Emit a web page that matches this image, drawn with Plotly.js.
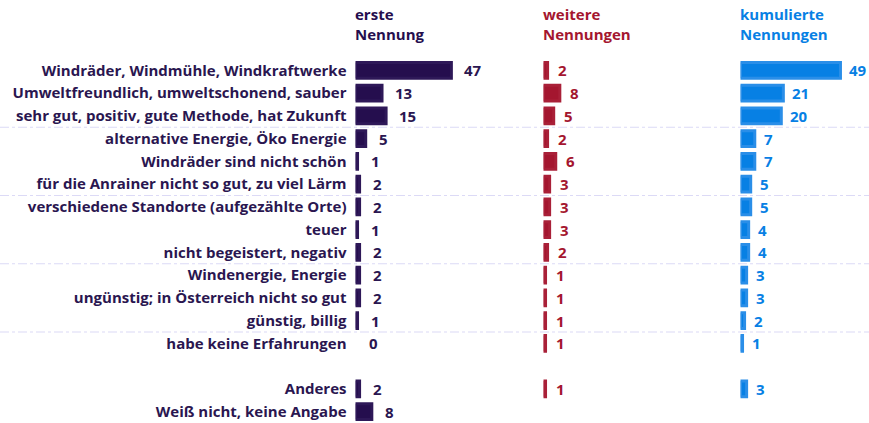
<!DOCTYPE html>
<html><head><meta charset="utf-8">
<script src="https://cdn.plot.ly/plotly-3.0.1.min.js"></script>
<style>html,body{margin:0;padding:0;background:#fff;}#chart{width:869px;height:423px;}</style>
</head><body><div id="chart"></div>
<script>
const categories = [
  "Windräder, Windmühle, Windkraftwerke",
  "Umweltfreundlich, umweltschonend, sauber",
  "sehr gut, positiv, gute Methode, hat Zukunft",
  "alternative Energie, Öko Energie",
  "Windräder sind nicht schön",
  "für die Anrainer nicht so gut, zu viel Lärm",
  "verschiedene Standorte (aufgezählte Orte)",
  "teuer",
  "nicht begeistert, negativ",
  "Windenergie, Energie",
  "ungünstig; in Österreich nicht so gut",
  "günstig, billig",
  "habe keine Erfahrungen",
  "Anderes",
  "Weiß nicht, keine Angabe"
];
const erste = [47, 13, 15, 5, 1, 2, 2, 1, 2, 2, 2, 1, 0, 2, 8];
const weitere = [2, 8, 5, 2, 6, 3, 3, 3, 2, 1, 1, 1, 1, 1];
const kumuliert = [49, 21, 20, 7, 7, 5, 5, 4, 4, 3, 3, 2, 1, 3];
const headers = ["erste<br>Nennung", "weitere<br>Nennungen", "kumulierte<br>Nennungen"];

const W = 869;
const FONT = "'Open Sans', 'DejaVu Sans', sans-serif";
const HFONT = "'Open Sans', 'DejaVu Sans', sans-serif";
const cText = "#2a1650";
const colors = ["#250e4e", "#a4162f", "#0780e4"];
const lineCols = ["#2e1858", "#a92038", "#2a8ee8"];

const catOrder = categories.slice(0, 13).concat([" "], categories.slice(13));

const s = 2.04; // px per unit
const origins = [355.5, 543.5, 740.5];
const ends = [535.5, 723.5, 869];
const series = [erste, weitere, kumuliert];
const axNames = ["x", "x2", "x3"];
const shifts = [11, 8, 7];

const data = series.map((vals, i) => ({
  type: "bar",
  orientation: "h",
  x: vals,
  y: categories.slice(0, vals.length),
  xaxis: axNames[i],
  yaxis: "y",
  width: 0.7,
  marker: {color: colors[i], line: {color: lineCols[i], width: vals.map(v => v > 0 ? 3 : 0)}},
  hoverinfo: "none"
}));

const annotations = [];
series.forEach((vals, i) => {
  vals.forEach((v, k) => {
    annotations.push({
      x: v, y: categories[k], xref: axNames[i], yref: "y",
      text: String(v), showarrow: false, xanchor: "left", yanchor: "middle",
      xshift: shifts[i],
      font: {family: FONT, size: 15, color: i === 0 ? cText : colors[i], weight: "bold"}
    });
  });
  annotations.push({
    x: 0, xref: axNames[i], y: 1, yref: "paper", yshift: 57, xshift: -3,
    xanchor: "left", yanchor: "top", align: "left", showarrow: false,
    text: "<b>" + headers[i] + "</b>",
    font: {family: HFONT, size: 15, color: colors[i]}
  });
});

const shapes = [2.5, 5.5, 8.5, 11.5].map(yv => ({
  type: "line", xref: "paper", yref: "y", x0: 0, x1: 1, y0: yv, y1: yv,
  line: {color: "#dcdaf6", width: 1.2, dash: "dashdot"}, layer: "below"
}));

const mkX = i => ({
  domain: [origins[i] / W, ends[i] / W],
  range: [0, (ends[i] - origins[i]) / s],
  visible: false, fixedrange: true
});

const layout = {
  width: 869, height: 423,
  margin: {l: 0, r: 0, t: 59, b: 0},
  paper_bgcolor: "#fff", plot_bgcolor: "rgba(0,0,0,0)",
  showlegend: false,
  xaxis: mkX(0), xaxis2: mkX(1), xaxis3: mkX(2),
  yaxis: {
    type: "category", categoryorder: "array", categoryarray: catOrder,
    range: [catOrder.length - 0.5, -0.5], anchor: "x",
    showgrid: false, zeroline: false, showline: false, ticks: "",
    ticklabelstandoff: 8,
    tickfont: {family: FONT, size: 15, color: cText, weight: "bold"},
    fixedrange: true
  },
  shapes: shapes,
  annotations: annotations
};

Plotly.newPlot("chart", data, layout, {displayModeBar: false, staticPlot: true});
</script>
</body></html>
